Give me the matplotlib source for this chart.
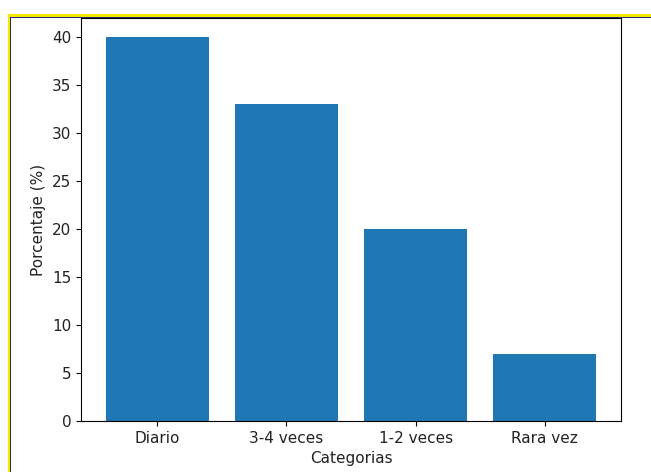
import matplotlib
matplotlib.use("Agg")
import matplotlib.pyplot as plt
from matplotlib.lines import Line2D

# Datos
categorias = ["Diario", "3-4 veces", "1-2 veces", "Rara vez"]
porcentajes = [40, 33, 20, 7]

W, H = 651, 472
fig = plt.figure(figsize=(W / 100, H / 100), dpi=100)

# Ejes en la misma posicion que la captura
ax = fig.add_axes([81 / W, 1 - 421 / H, 540 / W, 403 / H])
ax.bar(categorias, porcentajes, color="#1f77b4")
ax.set_xlabel("Categorias", fontsize=11, color="#222222")
ax.set_ylabel("Porcentaje (%)", fontsize=11, color="#222222")
ax.tick_params(labelsize=11, labelcolor="#222222")

# Marco amarillo de la captura (arriba e izquierda)
def px(x, y):
    return x / W, 1 - y / H

x0, y0 = px(8.5, 15)
x1, y1 = px(W, H)
fig.add_artist(Line2D([x0, x0], [y0, y1], color="#f5e800", lw=2.2))
fig.add_artist(Line2D([x0, x1], [y0, y0], color="#f5e800", lw=2.2))
xi, yi = px(10, 16.5)
fig.add_artist(Line2D([xi, xi], [yi, y1], color="#1a2a6c", lw=0.7))
fig.add_artist(Line2D([xi, x1], [yi, yi], color="#1a2a6c", lw=0.7))

fig.savefig("out.png", dpi=100)
